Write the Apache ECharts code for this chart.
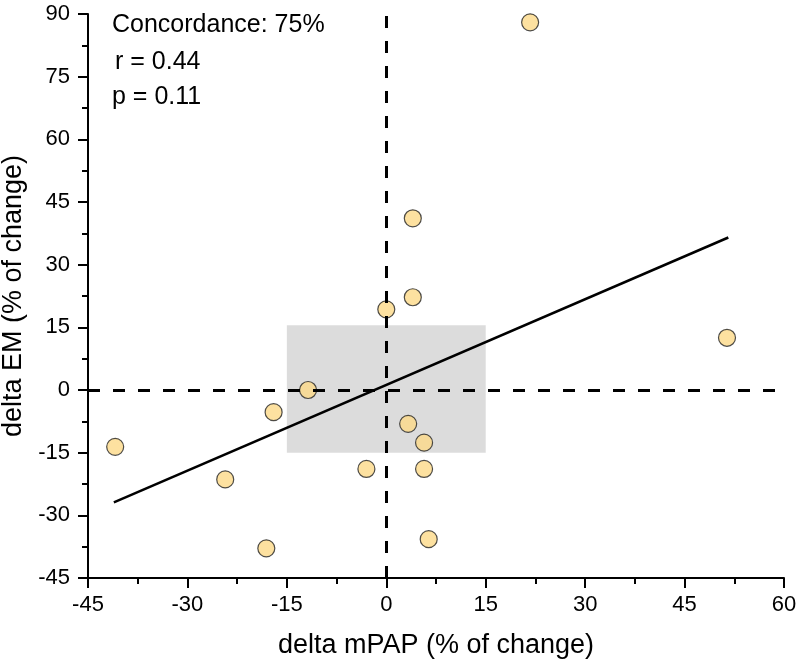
<!DOCTYPE html>
<html>
<head>
<meta charset="utf-8">
<script src="https://cdn.jsdelivr.net/npm/echarts@6/dist/echarts.min.js"></script>
<style>
  html, body { margin: 0; padding: 0; background: #ffffff; }
  #chart { width: 800px; height: 668px; }
</style>
</head>
<body>
<div id="chart"></div>
<script>
// ---- Data ----
const deltaMPAP = [-40.9, -24.3, -17.0, -11.8, -18.1, -3.0, 0.0, 4.0, 4.0, 3.3, 5.7, 5.7, 6.4, 21.7, 51.4];
const deltaEM   = [-13.6, -21.4, -5.3, 0.0, -37.9, -18.9, 19.3, 41.1, 22.2, -8.1, -12.6, -18.9, -35.7, 88.0, 12.5];
const fitX = [-41.1, 51.6];
const fitY = [-26.9, 36.5];
const boxX = [-15, 15];
const boxY = [-15, 15.5];
const xTicks = { min: -45, max: 60, interval: 15 };
const yTicks = { min: -45, max: 90, interval: 15 };
const statsText = ['Concordance: 75%', 'r = 0.44', 'p = 0.11'];
const xName = 'delta mPAP (% of change)';
const yName = 'delta EM (% of change)';

const FONT = '"Liberation Sans", Arial, sans-serif';

const points = deltaMPAP.map((x, i) => [x, deltaEM[i]]);
const fitLine = fitX.map((x, i) => [x, fitY[i]]);

const chart = echarts.init(document.getElementById('chart'), null, { renderer: 'canvas' });

const axisCommon = {
  axisLine: { show: true, onZero: false, lineStyle: { color: '#000', width: 2 } },
  axisTick: { show: true, inside: false, length: 10, lineStyle: { color: '#000', width: 2 } },
  minorTick: { show: true, splitNumber: 2, length: 6, lineStyle: { color: '#000', width: 2 } },
  splitLine: { show: false },
  minorSplitLine: { show: false },
  axisLabel: { color: '#000', fontSize: 22, fontFamily: FONT },
  nameTextStyle: { color: '#000', fontSize: 27, fontFamily: FONT }
};

chart.setOption({
  backgroundColor: '#ffffff',
  animation: false,
  grid: { left: 88, right: 16, top: 14, bottom: 90, containLabel: false, outerBoundsMode: 'none' },
  xAxis: Object.assign({}, axisCommon, {
    type: 'value',
    min: xTicks.min, max: xTicks.max, interval: xTicks.interval,
    name: xName, nameLocation: 'middle', nameGap: 54,
    axisLabel: Object.assign({}, axisCommon.axisLabel, { margin: 16 })
  }),
  yAxis: Object.assign({}, axisCommon, {
    type: 'value',
    min: yTicks.min, max: yTicks.max, interval: yTicks.interval,
    name: yName, nameLocation: 'middle', nameGap: 56,
    axisLabel: Object.assign({}, axisCommon.axisLabel, { margin: 18 })
  }),
  graphic: statsText.map((t, i) => ({
    type: 'text',
    left: [112, 115, 112][i],
    top: [13, 50, 85][i],
    style: { text: t, fontSize: 25, fontFamily: FONT, fill: '#000' },
    z: 10
  })),
  series: [
    {
      type: 'scatter',
      data: [],
      z: 1,
      silent: true,
      markArea: {
        silent: true,
        itemStyle: { color: '#dcdcdc' },
        data: [[{ xAxis: boxX[0], yAxis: boxY[0] }, { xAxis: boxX[1], yAxis: boxY[1] }]]
      }
    },
    {
      type: 'scatter',
      data: [],
      z: 2,
      silent: true,
      markLine: {
        silent: true,
        symbol: ['none', 'none'],
        label: { show: false },
        lineStyle: { color: '#000', width: 3, type: [12, 13] },
        data: [{ xAxis: 0 }, { yAxis: 0 }]
      }
    },
    {
      type: 'line',
      data: fitLine,
      z: 3,
      symbol: 'none',
      silent: true,
      lineStyle: { color: '#000', width: 2.5 }
    },
    {
      type: 'scatter',
      data: points,
      z: 4,
      symbol: 'circle',
      symbolSize: 17,
      itemStyle: { color: '#fdd988', borderColor: '#222', borderWidth: 1.2 }
    }
  ]
});
</script>
</body>
</html>
